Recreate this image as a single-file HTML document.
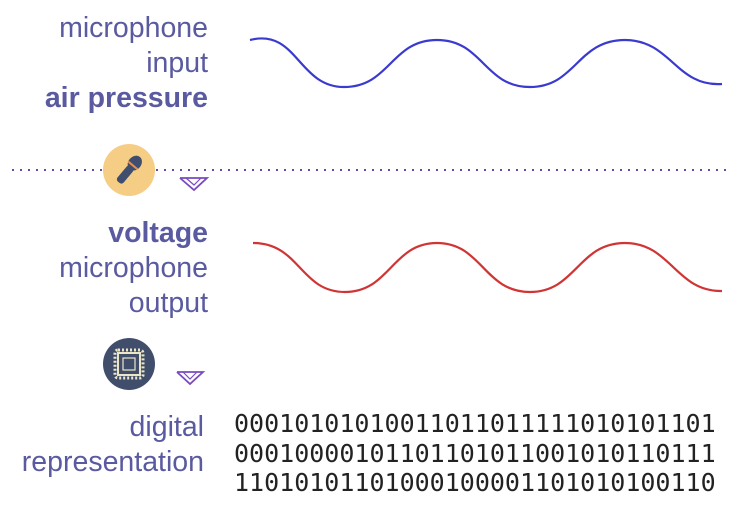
<!DOCTYPE html>
<html><head><style>
body{margin:0;width:735px;height:514px;background:#fff;position:relative;overflow:hidden;font-family:"Liberation Sans",sans-serif}
.t{position:absolute;right:527px;color:#5a5aa0;font-size:28.5px;line-height:35px;text-align:right;white-space:nowrap}
.b{font-weight:bold}
.bin{position:absolute;left:234px;top:409px;font-family:"DejaVu Sans Mono",monospace;font-size:25px;line-height:29.5px;color:#222;white-space:pre}
</style></head><body>
<div class="t" style="top:11px">microphone<br>input<br><span class="b">air pressure</span></div>
<div class="t" style="top:216px"><span class="b">voltage</span><br>microphone<br>output</div>
<div class="t" style="top:410px;right:531px">digital<br>representation</div>
<div class="bin">00010101010011011011111010101101
00010000101101101011001010110111
11010101101000100001101010100110</div>
<svg width="735" height="514" style="position:absolute;left:0;top:0">
<path d="M250,40 C297,28 298,87 344,87 C390,87 391,40 437,40 C483,40 484,87 530,87 C576,87 577,40 625,40 C671,40 676,87 722,84" fill="none" stroke="#3a3acf" stroke-width="2.2"/>
<path d="M253,243 C300,243 300,292 345,292 C390,292 392,243 437,243 C482,243 484,292 530,292 C576,292 578,243 625,243 C671,243 676,292 722,291" fill="none" stroke="#d03535" stroke-width="2.2"/>
<line x1="12" y1="170" x2="732" y2="170" stroke="#6a4aa8" stroke-width="2" stroke-dasharray="2,6"/>
<circle cx="129" cy="170" r="26" fill="#f6cd85"/>
<g transform="translate(129,170) rotate(40)">
<rect x="-4" y="-4" width="8" height="20" rx="3" fill="#3f4e6e"/>
<ellipse cx="0" cy="-9" rx="6.5" ry="8" fill="#3f4e6e"/>
<line x1="-6" y1="-6" x2="6" y2="-6" stroke="#e89050" stroke-width="2"/>
</g>
<polyline points="180,178 194,190 207,178 180,178" fill="none" stroke="#7a4ac0" stroke-width="1.8"/>
<polyline points="186,178 194,185 201,178" fill="none" stroke="#7a4ac0" stroke-width="1.2"/>
<circle cx="129" cy="364" r="26" fill="#414e6b"/>
<rect x="115" y="350" width="28" height="28" rx="3" fill="none" stroke="#ece6c8" stroke-width="3" stroke-dasharray="2,2"/>
<rect x="118" y="353" width="22" height="22" fill="none" stroke="#ece6c8" stroke-width="2"/>
<rect x="123" y="358" width="12" height="12" fill="none" stroke="#ece6c8" stroke-width="1.2"/>
<polyline points="177,372 190,384 203,372 177,372" fill="none" stroke="#7a4ac0" stroke-width="1.8"/>
<polyline points="183,372 190,379 197,372" fill="none" stroke="#7a4ac0" stroke-width="1.2"/>
</svg>
</body></html>
